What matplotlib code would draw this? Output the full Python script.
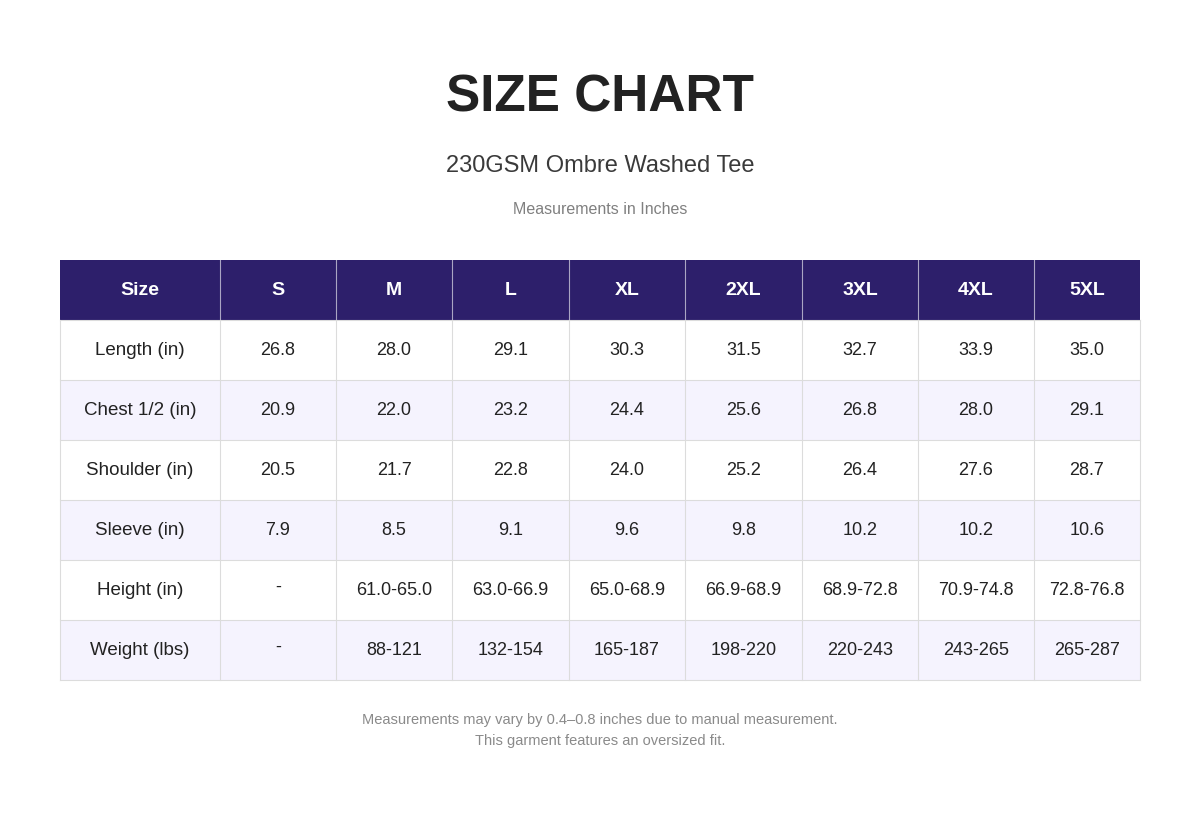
import matplotlib
matplotlib.use("Agg")
import matplotlib.pyplot as plt
from matplotlib.patches import Rectangle

plt.rcParams['font.family'] = ['Liberation Sans', 'DejaVu Sans']

title = "SIZE CHART"
subtitle = "230GSM Ombre Washed Tee"
unit_note = "Measurements in Inches"
footnotes = ["Measurements may vary by 0.4\u20130.8 inches due to manual measurement.",
             "This garment features an oversized fit."]

sizes = ["S", "M", "L", "XL", "2XL", "3XL", "4XL", "5XL"]
row_labels = ["Length (in)", "Chest 1/2 (in)", "Shoulder (in)", "Sleeve (in)", "Height (in)", "Weight (lbs)"]
length = ["26.8", "28.0", "29.1", "30.3", "31.5", "32.7", "33.9", "35.0"]
chest = ["20.9", "22.0", "23.2", "24.4", "25.6", "26.8", "28.0", "29.1"]
shoulder = ["20.5", "21.7", "22.8", "24.0", "25.2", "26.4", "27.6", "28.7"]
sleeve = ["7.9", "8.5", "9.1", "9.6", "9.8", "10.2", "10.2", "10.6"]
height = ["-", "61.0-65.0", "63.0-66.9", "65.0-68.9", "66.9-68.9", "68.9-72.8", "70.9-74.8", "72.8-76.8"]
weight = ["-", "88-121", "132-154", "165-187", "198-220", "220-243", "243-265", "265-287"]
rows = [length, chest, shoulder, sleeve, height, weight]

W, H = 1200, 813
fig = plt.figure(figsize=(12, 8.13), dpi=100)
ax = fig.add_axes([0, 0, 1, 1])
ax.set_xlim(0, W)
ax.set_ylim(H, 0)
ax.axis('off')

ax.text(600, 98, title, ha='center', va='center', fontsize=37, fontweight='bold', color='#222222')
ax.text(600, 166, subtitle, ha='center', va='center', fontsize=17, color='#3a3a3a')
ax.text(600, 209, unit_note, ha='center', va='center', fontsize=11.5, color='#808080')

col_x = [60, 220, 336, 452, 569, 685, 802, 918, 1034, 1140]
top, rh = 260, 60
header_c = '#2d1f6b'
alt_c = '#f5f3fe'
line_c = '#dcdcdc'

# header
ax.add_patch(Rectangle((col_x[0], top), col_x[-1] - col_x[0], rh, color=header_c, lw=0))
hdr = ["Size"] + sizes
for i, t in enumerate(hdr):
    cx = (col_x[i] + col_x[i + 1]) / 2
    ax.text(cx, top + rh / 2, t, ha='center', va='center', fontsize=14, fontweight='bold', color='white')
    if i > 0:
        ax.plot([col_x[i], col_x[i]], [top, top + rh], color='#ffffff', lw=0.8, alpha=0.6)

for r, (lab, vals) in enumerate(zip(row_labels, rows)):
    y0 = top + rh * (r + 1)
    fc = 'white' if r % 2 == 0 else alt_c
    ax.add_patch(Rectangle((col_x[0], y0), col_x[-1] - col_x[0], rh, facecolor=fc, edgecolor='none'))
    cells = [lab] + vals
    for i, t in enumerate(cells):
        cx = (col_x[i] + col_x[i + 1]) / 2
        off = -3 if t == "-" else 0
        ax.text(cx, y0 + rh / 2 + off, t, ha='center', va='center',
                fontsize=13.5 if i == 0 else 13, color='#222222')

bottom = top + rh * 7
for r in range(1, 8):
    y = top + rh * r
    ax.plot([col_x[0], col_x[-1]], [y, y], color=line_c, lw=0.8)
for i, x in enumerate(col_x):
    ax.plot([x, x], [top + rh, bottom], color=line_c, lw=0.8)

ax.text(600, 720, footnotes[0], ha='center', va='center', fontsize=10.5, color='#8a8a8a')
ax.text(600, 741, footnotes[1], ha='center', va='center', fontsize=10.5, color='#8a8a8a')

fig.savefig("out.png", dpi=100, facecolor='white')
